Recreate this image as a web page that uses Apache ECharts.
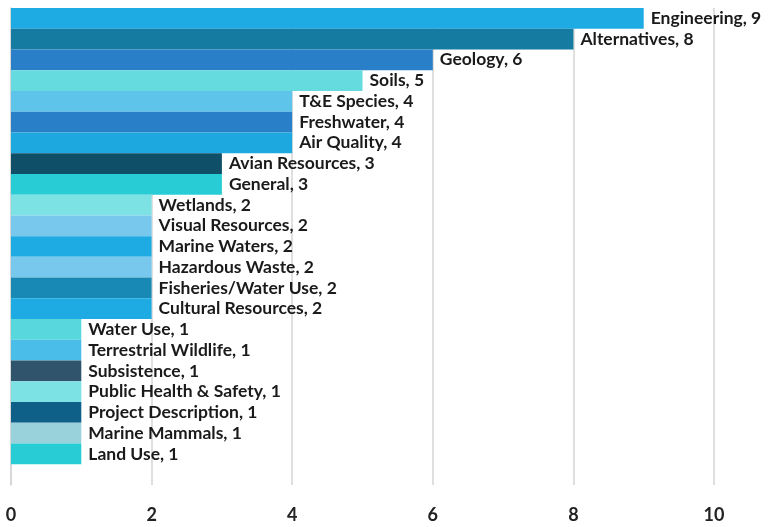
<!DOCTYPE html>
<html>
<head>
<meta charset="utf-8">
<script src="https://cdn.jsdelivr.net/npm/echarts@6/dist/echarts.min.js"></script>
<style>
  html, body { margin: 0; padding: 0; background: #fff; }
  #chart { width: 770px; height: 527px; }
</style>
</head>
<body>
<div id="chart"></div>
<script>
// categories top to bottom; the last empty slot leaves the gap above the axis labels
const categories = [
  'Engineering', 'Alternatives', 'Geology', 'Soils', 'T&E Species', 'Freshwater',
  'Air Quality', 'Avian Resources', 'General', 'Wetlands', 'Visual Resources',
  'Marine Waters', 'Hazardous Waste', 'Fisheries/Water Use', 'Cultural Resources',
  'Water Use', 'Terrestrial Wildlife', 'Subsistence', 'Public Health & Safety',
  'Project Description', 'Marine Mammals', 'Land Use', ''
];
const counts = [9, 8, 6, 5, 4, 4, 4, 3, 3, 2, 2, 2, 2, 2, 2, 1, 1, 1, 1, 1, 1, 1, null];
const barColors = [
  '#1eaae2', '#167ba0', '#2a80c8', '#65dbe0', '#5ec4ea', '#2a80c8',
  '#1ea8e0', '#0f5068', '#28ccd4', '#7de2e4', '#78c8ee', '#1eaae2',
  '#78c8ee', '#1888b4', '#1eaae2', '#58d8dc', '#4abde8', '#30546c',
  '#7de2e4', '#0f6088', '#9ad2dc', '#28ccd4', '#ffffff'
];
const xTicks = [0, 2, 4, 6, 8, 10];

const chart = echarts.init(document.getElementById('chart'));

const options = {
  animation: false,
  grid: { left: 11, right: 56, top: 8, bottom: 42, containLabel: false },
  xAxis: {
    type: 'value',
    min: xTicks[0],
    max: xTicks[xTicks.length - 1],
    interval: 2,
    axisLine: { show: false },
    axisTick: { show: false },
    splitLine: { lineStyle: { color: '#d4d4d4', width: 1.5 } },
    axisLabel: {
      margin: 21,
      color: '#222',
      fontFamily: 'Lato',
      fontWeight: 'bold',
      fontSize: 18
    }
  },
  yAxis: {
    type: 'category',
    inverse: true,
    data: categories,
    axisLine: { show: true, lineStyle: { color: '#d4d4d4', width: 1.5 } },
    axisTick: { show: false },
    axisLabel: { show: false },
    splitLine: { show: false }
  },
  series: [
    {
      type: 'bar',
      barCategoryGap: 0,
      data: counts.map((v, i) => ({ value: v, itemStyle: { color: barColors[i] } })),
      label: {
        show: true,
        position: 'right',
        distance: 7,
        formatter: p => (p.value == null ? '' : p.name + ', ' + p.value),
        color: '#1a1a1a',
        fontFamily: 'Lato',
        fontWeight: 'bold',
        fontSize: 17.5
      }
    }
  ]
};

chart.setOption(options);
</script>
</body>
</html>
